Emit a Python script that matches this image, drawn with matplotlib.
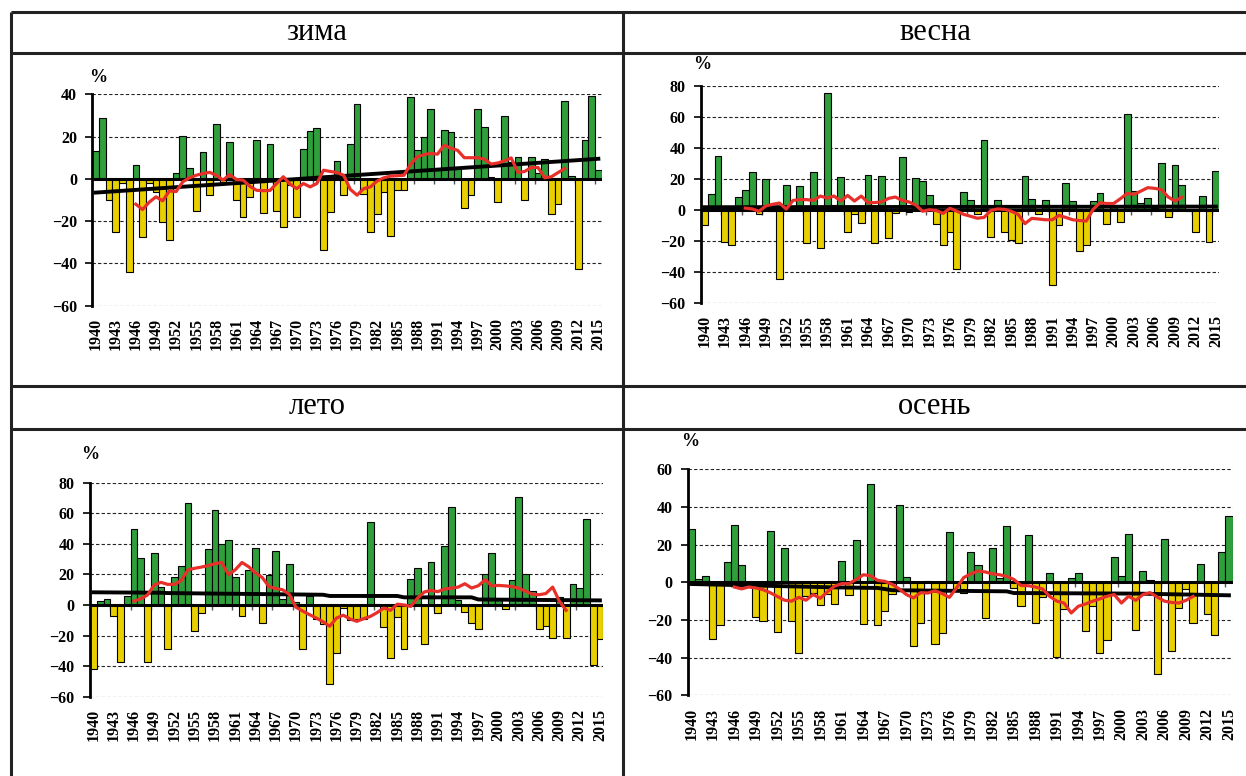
import numpy as np
import matplotlib.pyplot as plt
from matplotlib.lines import Line2D

# years of the bars and of the running mean (red line)
years = np.arange(1940, 2016)
ma_years = np.arange(1946, 2011)

# precipitation anomaly, %
zima = [13, 29, -10, -25, -2, -44, 6.5, -27.5, -2, -6,
        -20.5, -29, 3, 20.5, 5, -15, 12.5, -7.5, 26, -2,
        17.5, -10, -18, -8.5, 18.5, -16, 16.5, -15, -23, -3,
        -18, 14, 22.5, 24, -33.5, -15.5, 8.5, -7.5, 16.5, 35.5,
        -7, -25, -16.5, -6, -27, -5.5, -5.5, 38.5, 13.5, 20,
        33, 4, 23, 22, 5, -14, -7.5, 33, 24.5, 1,
        -11, 29.5, 8, 10.5, -10, 10.5, 3, 9.5, -16.5, -12,
        37, 1.5, -42.5, 18.5, 39, 4]
vesna = [-10, 10, 34.5, -21, -23, 8, 13, 24, -3, 19.5,
         -1, -45, 16, 2, 15.5, -21.5, 24, -25, 75, 3,
         21, -14.5, -2.5, -8.5, 22.5, -21.5, 21.5, -18.5, -2, 34,
         -1.5, 20.5, 18.5, 9.5, -9, -22.5, -14.5, -38, 11.5, 6.5,
         -2.5, 45, -17.5, 6.5, -14.5, -19.5, -21.5, 22, 7, -3,
         6.5, -48.5, -10, 17.5, 5.5, -26.5, -22.5, 5.5, 10.5, -9,
         2, -8, 62, 12, 4.5, 7.5, 1, 30, -4.5, 29,
         16, -1, -14.5, 9, -21, 25]
leto = [-42, 2.5, 4, -7, -37, 6, 50, 31, -37, 34,
        11.5, -29, 18.5, 25.5, 67, -17, -5, 36.5, 62, 40,
        42.5, 18, -7, 23, 37.5, -12, 19.5, 35.5, 4, 27,
        2, -28.5, 6, -9, -12.5, -52, -31.5, -2, -10, -9,
        -9, 54.5, 0.5, -14.5, -34.5, -8, -28.5, 17, 24.5, -25.5,
        28, -5, 38.5, 64, 3, -4.5, -11.5, -15.5, 20.5, 34,
        3.5, -2.5, 16.5, 70.5, 20.5, 9, -15.5, -13.5, -21.5, 5.5,
        -21.5, 14, 11, 56, -39.5, -22.5]
osen = [28.5, 2, 3.5, -30, -22.5, 11, 30.5, 9, -2, -18.5,
        -20.5, 27.5, -26.5, 18, -20.5, -37.5, -7.5, -5.5, -12, -6,
        -11.5, 11.5, -6.5, 22.5, -22, 52, -22.5, -15.5, -6, 41,
        3, -34, -21.5, 0.8, -33, -27, 26.5, -4, -5.5, 16,
        9, -19, 18, 2.5, 30, -3, -12.5, 25, -21.5, -8,
        5, -39.5, -14, 2.5, 5, -26, -12.5, -37.5, -30.5, 13.5,
        3.5, 25.5, -25.5, 6, 1, -48.5, 23, -36.5, -13.5, -3.5,
        -21.5, 9.5, -17, -28, 16, 35]

# running mean, 1946-2010
zima_ma = [-12, -14.5, -11, -8.5, -10.4, -5.7, -6, -1.4, 0.5, 1.7,
           2.5, 3.1, 1.7, -0.6, 2, -0.3, -0.6, -3.5, -5.4, -5.6,
           -5.5, -2.2, 1, -2.5, -4.6, -2.2, -3.8, -2.2, 4.1, 3.5,
           3, 1.7, -5, -7.7, -4.6, -3.8, -1, 0.5, 1.3, 1.5,
           1.7, 7, 10.4, 11.5, 12, 11.7, 15.9, 14.5, 13.5, 10,
           10, 10, 9.3, 7, 7.5, 8.5, 9.9, 3, 3.5, 5.4,
           5.4, 0.5, 1, 3, 4.9]
vesna_ma = [1.0, 0.5, -1, 2.4, 3.5, 4.3, 0.4, 6, 6.5, 6.5,
            6, 8.8, 7.5, 8.8, 5.6, 9.2, 5.6, 8.8, 4.5, 4.6,
            5, 7.3, 8.2, 6, 5, 3, -1, 0, -0.5, -2.4,
            0.9, -0.9, -3, -4.2, -5.5, -5, -0.5, 0.5, 0.2, -1,
            -3, -9, -5.6, -6, -6.5, -6.5, -3.7, -5, -6.5, -7,
            -7.3, 0.2, 4.5, 4, 4, 7.1, 10.5, 9.9, 12, 14.2,
            13.8, 13, 8.2, 5.6, 8]
leto_ma = [2.5, 4, 6.5, 13, 14.8, 13.5, 13.5, 16, 23, 24,
           24.8, 25.8, 27, 27.8, 19.8, 23, 27.8, 25, 21, 18,
           12, 10.8, 10, 7, -1.5, -4, -6.3, -8.5, -11, -13.9,
           -8.5, -6.7, -9.1, -10.7, -9, -7.5, -5, -2, -3.5, 0.5,
           0, -0.9, 4.5, 8.5, 9.6, 8.7, 10.5, 11, 11.7, 13.9,
           11.1, 12.6, 16.5, 12.5, 12.8, 12.5, 12, 11, 9, 7,
           6.7, 7.5, 11.7, 2.4, -3.5]
osen_ma = [-2.5, -3.5, -2.5, -3, -3.9, -5.5, -7.5, -9.5, -10, -8,
           -9.5, -6.5, -8.5, -5, -2, -0.7, -0.7, 1.5, 4, 3.5,
           1, 0.5, -1, -3.5, -6.5, -8.3, -5.5, -5.7, -4.5, -6,
           -8, -3, 2.5, 4.5, 6, 5.5, 4.5, 4, 3.2, 1.5,
           -1.7, -1.8, -2.5, -3.5, -7.5, -10, -11, -16.3, -12.7, -11.5,
           -10, -8.8, -7.4, -6.5, -11, -7.4, -9.6, -6.5, -5.5, -7.8,
           -10, -10.7, -11, -9.6, -7.5]

# trend (black line), knots
zima_tr_x, zima_tr_y = [1940, 2015], [-6.5, 9.5]
vesna_tr_x, vesna_tr_y = [1940, 2015], [1.6, 2.0]
leto_tr_x = [1940, 1950, 1951, 1974, 1975, 1985, 1986, 1996, 1997, 2015]
leto_tr_y = [8.3, 8.0, 7.8, 6.7, 5.9, 5.9, 5.0, 5.0, 3.6, 3.0]
osen_tr_x = [1940, 1960, 1966, 1968, 1984, 1985, 2002, 2015]
osen_tr_y = [-0.9, -2.7, -3.0, -4.2, -4.8, -5.7, -6.0, -6.9]

GREEN = '#2e9f3b'
YELLOW = '#e8cf00'
RED = '#e8302a'
SERIF = 'Liberation Serif'

W, H = 1246, 776
fig = plt.figure(figsize=(W / 100, H / 100), dpi=100)


def fx(x):
    return x / W


def fy(y):
    return 1 - y / H


# table frame
frame = dict(color='#222222', lw=2.2, solid_capstyle='butt')
for y in [12, 53, 386, 429]:
    fig.add_artist(Line2D([fx(11), 1], [fy(y), fy(y)], **frame))
for x in [11, 623]:
    fig.add_artist(Line2D([fx(x), fx(x)], [fy(12), 0], **frame))

for name, x, y in [('зима', 317, 33), ('весна', 935, 33),
                   ('лето', 317, 407), ('осень', 935, 407)]:
    fig.text(fx(x), fy(y), name, family=SERIF, fontsize=22,
             ha='center', va='center')

panels = [
    (zima, zima_ma, zima_tr_x, zima_tr_y, (-60, 40), (92.3, 94.3, 601.7, 305.7), (4, 6)),
    (vesna, vesna_ma, vesna_tr_x, vesna_tr_y, (-60, 80), (701, 85.7, 1219.3, 302.7), (1, 9)),
    (leto, leto_ma, leto_tr_x, leto_tr_y, (-60, 80), (90, 482.7, 603.3, 696.7), (0, 14)),
    (osen, osen_ma, osen_tr_x, osen_tr_y, (-60, 60), (687.7, 469.3, 1232.5, 695.3), (2, 14)),
]

for vals, ma, trx, tr_y, ylim, (l, t, r, b), pct in panels:
    ax = fig.add_axes([fx(l), fy(b), (r - l) / W, (b - t) / H])
    vals = np.array(vals)
    colors = [GREEN if v >= 0 else YELLOW for v in vals]
    ax.bar(years, vals, width=1.0, color=colors, edgecolor='black',
           linewidth=0.8, zorder=2)
    ax.axhline(0, color='black', lw=2.2, zorder=3)

    # small tick marks under the zero line every 3 years
    tick_len = (ylim[1] - ylim[0]) * 5 / (b - t)
    ax.vlines(years[::3] - 0.5, -tick_len, 0, color='#555555', lw=1, zorder=1)

    ax.plot(trx, tr_y, color='black', lw=2.8, zorder=4)
    ax.plot(ma_years[:len(ma)], ma, color=RED, lw=2.3, zorder=5)

    ax.set_xlim(1939.5, 2015.5)
    ax.set_ylim(*ylim)
    ax.set_yticks(np.arange(ylim[0], ylim[1] + 1, 20))
    ax.set_xticks(years[::3])
    ax.set_xticklabels([str(y) for y in years[::3]], rotation=90,
                       family=SERIF, fontweight='bold', fontsize=11.5)
    for lab in ax.get_yticklabels():
        lab.set_family(SERIF)
        lab.set_fontweight('bold')
        lab.set_fontsize(11.5)
    ax.tick_params(axis='x', length=0, pad=9)
    ax.tick_params(axis='y', length=5, width=1.2, direction='out', pad=6)

    ax.yaxis.grid(True, linestyle=(0, (3, 2)), color='#222222', lw=0.8)
    ax.set_axisbelow(True)
    for s in ['top', 'right', 'bottom']:
        ax.spines[s].set_visible(False)
    ax.spines['left'].set_linewidth(2)
    ax.patch.set_alpha(0)

    ax.annotate('%', xy=(0, 1), xycoords='axes fraction', xytext=pct,
                textcoords='offset points', ha='center', va='bottom',
                family=SERIF, fontweight='bold', fontsize=13)

fig.savefig('out.png', dpi=100)
